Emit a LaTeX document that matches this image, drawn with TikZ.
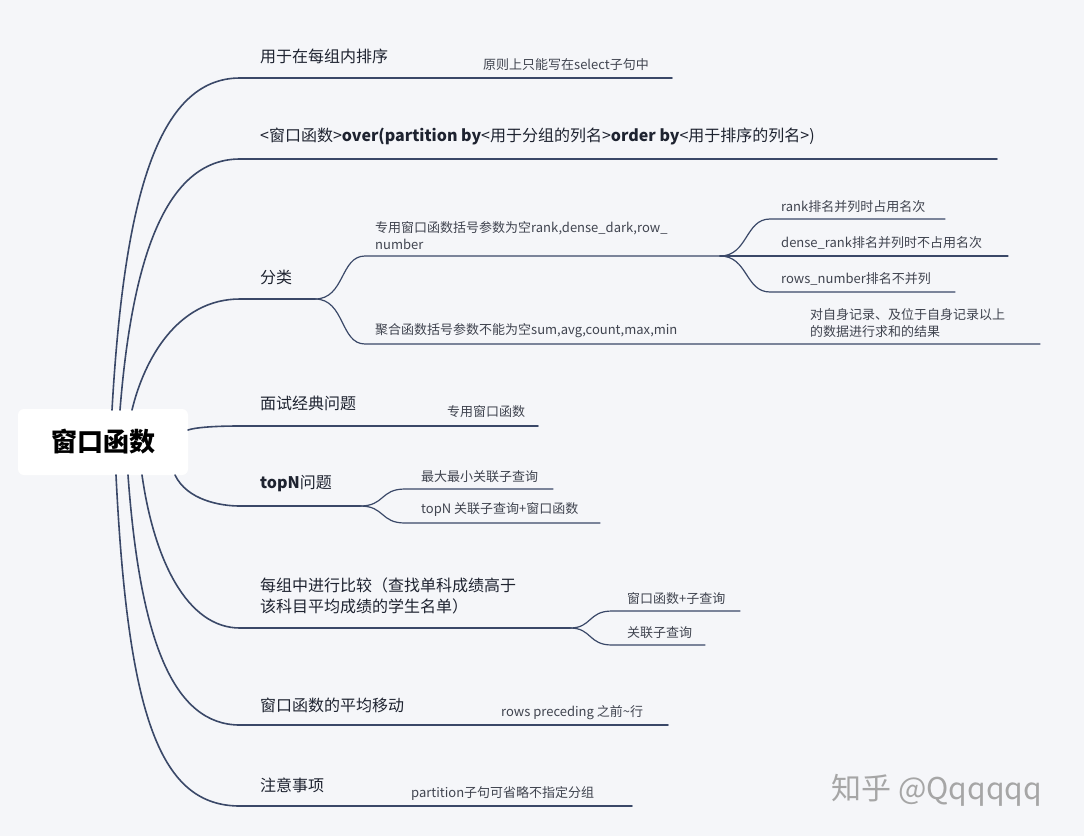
\documentclass[tikz,border=0pt]{standalone}
\usepackage{fontspec}
\setmainfont{Noto Sans CJK SC}
\usetikzlibrary{positioning}
\definecolor{bg}{HTML}{F5F6F9}
\definecolor{edge}{HTML}{3A4868}
\definecolor{ink}{HTML}{1E2330}
\tikzset{
    branch/.style={draw=edge, line width=1.6pt, line cap=round},
    twig/.style={draw=edge, line width=1.2pt, line cap=round},
    mainlbl/.style={anchor=south west, inner sep=0pt, text=ink, font=\fontsize{16}{21}\selectfont, align=left},
    sublbl/.style={anchor=south west, inner sep=0pt, text=ink!85, font=\fontsize{13}{17}\selectfont, align=left}
}
\begin{document}
\begin{tikzpicture}[x=1pt,y=-1pt]
    \fill[bg] (0,0) rectangle (1084,836);
    \useasboundingbox (0,0) rectangle (1084,836);
    % root
    \node[fill=white, rounded corners=6pt, minimum width=170pt, minimum height=66pt,
          font=\fontsize{26}{30}\selectfont\bfseries, text=black] (root) at (103,442) {窗口函数};
    % main branches: name / start x / start y / control y / line y / end x
    \foreach \n/\sx/\sy/\cy/\y/\ex in {1/112/410/200/78/672, 2/120/410/260/159/997, 3/132/410/360/299/315,
            4/188/430/426/426/538, 5/175/475/500/506/360, 6/142/475/560/628/570,
            7/128/475/640/725/668, 8/116/475/720/806/632}{
        \coordinate (s\n) at (\sx,\sy);
        \coordinate (j\n) at (240,\y);
        \coordinate (e\n) at (\ex,\y);
        \draw[branch] (s\n) .. controls (\sx+12,\cy) and (\sx+45,\y) .. (j\n) -- (e\n);
    }
    % main labels
    \node[mainlbl] (t1) at (260,64) {用于在每组内排序};
    \node[mainlbl] (t2) at (260,145) {<窗口函数>\textbf{over(partition by}<用于分组的列名>\textbf{order by}<用于排序的列名>)};
    \node[mainlbl] (t3) at (260,285) {分类};
    \node[mainlbl] (t4) at (260,411) {面试经典问题};
    \node[mainlbl] (t5) at (260,492) {\textbf{topN}问题};
    \node[mainlbl] (t6) at (260,614) {每组中进行比较（查找单科成绩高于\\该科目平均成绩的学生名单）};
    \node[mainlbl] (t7) at (260,713) {窗口函数的平均移动};
    \node[mainlbl] (t8) at (260,793) {注意事项};
    % leaves sitting on main lines
    \node[sublbl] (u1) at (483,71) {原则上只能写在select子句中};
    \node[sublbl] (u4) at (447,418) {专用窗口函数};
    \node[sublbl] (u7) at (501,720) {rows preceding 之前\textasciitilde 行};
    \node[sublbl] (u8) at (411,801) {partition子句可省略不指定分组};
    % 分类
    \coordinate (c3a) at (365,256);
    \coordinate (c3b) at (365,344);
    \coordinate (c3ae) at (720,256);
    \coordinate (c3be) at (1040,344);
    \draw[twig] (e3) .. controls (345,299) and (340,256) .. (c3a) -- (c3ae);
    \draw[twig] (e3) .. controls (345,299) and (340,344) .. (c3b) -- (c3be);
    \node[sublbl] (u3a) at (375,250) {专用窗口函数括号参数为空rank,dense\_dark,row\_\\number};
    \node[sublbl] (u3b) at (375,338) {聚合函数括号参数不能为空sum,avg,count,max,min};
    \node[sublbl] (u3c) at (810,338) {对自身记录、及位于自身记录以上\\的数据进行求和的结果};
    \foreach \m/\y/\ex/\txt in {1/219/945/rank排名并列时占用名次, 2/256/1008/dense\_rank排名并列时不占用名次,
            3/292/955/rows\_number排名不并列}{
        \coordinate (r\m) at (770,\y);
        \coordinate (re\m) at (\ex,\y);
        \draw[twig] (c3ae) .. controls (748,256) and (745,\y) .. (r\m) -- (re\m);
        \node[sublbl] (v\m) at (781,\y-6) {\txt};
    }
    % topN
    \foreach \m/\y/\ex/\txt in {1/489/553/最大最小关联子查询, 2/523/600/topN 关联子查询+窗口函数}{
        \coordinate (p\m) at (405,\y);
        \coordinate (pe\m) at (\ex,\y);
        \draw[twig] (e5) .. controls (385,506) and (380,\y) .. (p\m) -- (pe\m);
        \node[sublbl] (w\m) at (421,\y-6) {\txt};
    }
    % 每组中进行比较
    \foreach \m/\y/\ex/\txt in {1/611/740/窗口函数+子查询, 2/645/705/关联子查询}{
        \coordinate (q\m) at (612,\y);
        \coordinate (qe\m) at (\ex,\y);
        \draw[twig] (e6) .. controls (592,628) and (588,\y) .. (q\m) -- (qe\m);
        \node[sublbl] (x\m) at (627,\y-6) {\txt};
    }
    % watermark
    \node[anchor=west, text=black!35, font=\fontsize{30}{34}\selectfont] (mark) at (828,790) {知乎 @Qqqqqq};
\end{tikzpicture}
\end{document}
